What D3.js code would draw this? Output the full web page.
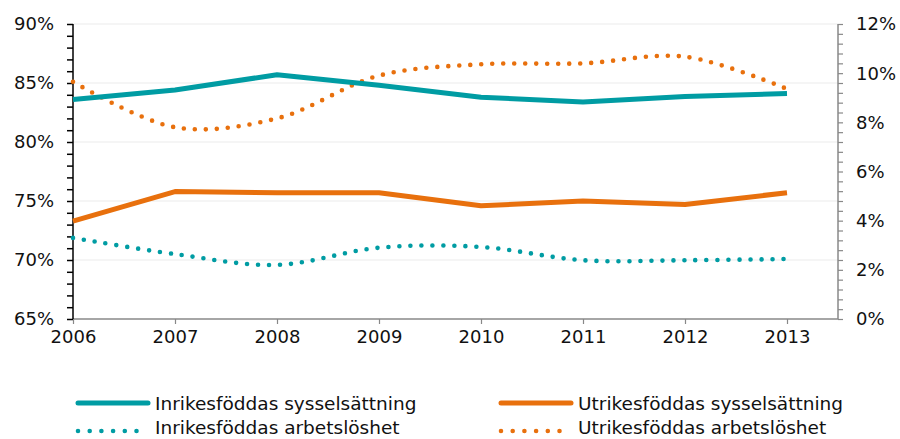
<!DOCTYPE html>
<html><head><meta charset="utf-8">
<script src="https://cdn.jsdelivr.net/npm/d3@7"></script>
<style>body{margin:0;background:#fff}svg{display:block;font-family:"DejaVu Sans",Verdana,sans-serif}</style>
</head><body><svg id="c" width="900" height="439"></svg>
<script>
const years = [2006, 2007, 2008, 2009, 2010, 2011, 2012, 2013];
const inrikesSyss = [83.6, 84.4, 85.7, 84.8, 83.8, 83.4, 83.85, 84.1];
const utrikesSyss = [73.3, 75.8, 75.7, 75.7, 74.6, 75.0, 74.7, 75.7];
const inrikesArb = [3.3, 2.64, 2.2, 2.9, 2.93, 2.39, 2.39, 2.44];
const utrikesArb = [9.65, 7.8, 8.16, 9.9, 10.36, 10.4, 10.67, 9.36];
const leftTicks = [65, 70, 75, 80, 85, 90];
const rightTicks = [0, 2, 4, 6, 8, 10, 12];
const legendLabels = ["Inrikesföddas sysselsättning", "Utrikesföddas sysselsättning", "Inrikesföddas arbetslöshet", "Utrikesföddas arbetslöshet"];

const teal = "#009ca3", orange = "#e8700d";
const svg = d3.select("#c");
const L = 73, R = 838, T = 24, B = 319;
const x = d3.scaleLinear().domain([2006, 2013.5]).range([L, R]);
const yL = d3.scaleLinear().domain([65, 90]).range([B, T]);
const yR = d3.scaleLinear().domain([0, 12]).range([B, T]);

// gridlines
svg.append("g").selectAll("line").data(leftTicks.filter(d => d > 65)).join("line")
  .attr("x1", L).attr("x2", R).attr("y1", d => yL(d)).attr("y2", d => yL(d))
  .attr("stroke", "#ececec").attr("stroke-width", 1.2);

const fs = "18px";
// left axis
const gl = svg.append("g").attr("transform", `translate(${L},0)`)
  .call(d3.axisLeft(yL).ticks(25).tickSize(6).tickFormat(""));
gl.select(".domain").attr("stroke", "#000").attr("stroke-width", 1.5).attr("d", `M0,${T}V${B}`);
gl.selectAll(".tick line").attr("stroke", "#000").attr("stroke-width", 1.5);
svg.append("g").selectAll("text").data(leftTicks).join("text")
  .attr("x", 54).attr("y", d => yL(d)).attr("dy", "0.36em").attr("text-anchor", "end")
  .attr("font-size", fs).attr("fill", "#111").text(d => d + "%");

// right axis
const gr = svg.append("g").attr("transform", `translate(${R},0)`)
  .call(d3.axisRight(yR).tickValues(d3.range(0, 12.01, 0.4)).tickSize(5).tickFormat(""));
gr.select(".domain").attr("stroke", "#888").attr("stroke-width", 1.5).attr("d", `M0,${T}V${B}`);
gr.selectAll(".tick line").attr("stroke", "#888").attr("stroke-width", 1.2);
svg.append("g").selectAll("text").data(rightTicks).join("text")
  .attr("x", 856).attr("y", d => yR(d)).attr("dy", "0.36em").attr("text-anchor", "start")
  .attr("font-size", fs).attr("fill", "#111").text(d => d + "%");

// bottom axis
const gb = svg.append("g").attr("transform", `translate(0,${B})`)
  .call(d3.axisBottom(x).tickValues(years).tickSize(5).tickFormat(d3.format("d")));
gb.select(".domain").attr("stroke", "#888").attr("stroke-width", 1.5).attr("d", `M${L},0H${R}`);
gb.selectAll(".tick line").attr("stroke", "#888").attr("stroke-width", 1.2);
gb.selectAll(".tick text").attr("font-size", fs).attr("fill", "#111").attr("y", 11).attr("dy", "0.71em")
  .attr("font-family", "DejaVu Sans, Verdana, sans-serif");
gl.raise();

// lines
const straight = (ys, sc) => d3.line().x((d, i) => x(years[i])).y(d => sc(d))(ys);
const smooth = (ys, sc) => d3.line().curve(d3.curveCatmullRom.alpha(0.5)).x((d, i) => x(years[i])).y(d => sc(d))(ys);

const series = [
  {d: smooth(inrikesArb, yR), c: teal, dot: true},
  {d: smooth(utrikesArb, yR), c: orange, dot: true},
  {d: straight(utrikesSyss, yL), c: orange, dot: false},
  {d: straight(inrikesSyss, yL), c: teal, dot: false}
];
svg.append("g").selectAll("path").data(series).join("path")
  .attr("d", s => s.d).attr("fill", "none").attr("stroke", s => s.c)
  .attr("stroke-width", s => s.dot ? 4.6 : 5)
  .attr("stroke-linecap", s => s.dot ? "round" : "butt")
  .attr("stroke-linejoin", "round")
  .attr("stroke-dasharray", s => s.dot ? "0 11" : null);

// legend
const leg = [
  {x: 78, y: 403, ty: 410, c: teal, dot: false, t: legendLabels[0]},
  {x: 501, y: 403, ty: 410, c: orange, dot: false, t: legendLabels[1]},
  {x: 78, y: 431, ty: 434, c: teal, dot: true, t: legendLabels[2]},
  {x: 501, y: 431, ty: 434, c: orange, dot: true, t: legendLabels[3]}
];
const lg = svg.append("g").selectAll("g").data(leg).join("g").attr("transform", d => `translate(${d.x},0)`);
lg.append("line").attr("x1", 0).attr("x2", 70).attr("y1", d => d.y).attr("y2", d => d.y).attr("stroke", d => d.c)
  .attr("stroke-width", d => d.dot ? 4.6 : 5).attr("stroke-linecap", "round")
  .attr("stroke-dasharray", d => d.dot ? "0 11.7" : null);
lg.append("text").attr("x", 77).attr("y", d => d.ty).attr("font-size", "18.5px").attr("fill", "#111").text(d => d.t);
</script></body></html>
